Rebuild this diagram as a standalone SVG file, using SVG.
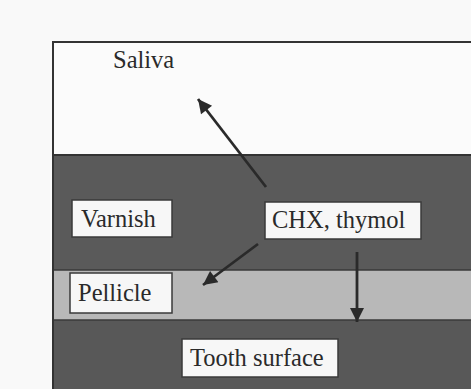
<svg xmlns="http://www.w3.org/2000/svg" width="471" height="389" viewBox="0 0 471 389">
  <defs>
    <marker id="ah" viewBox="0 0 10 10" refX="10" refY="5" markerWidth="6" markerHeight="5" orient="auto" markerUnits="strokeWidth">
      <path d="M0,0 L10,5 L0,10 Z" fill="#2a2a2a"/>
    </marker>
  </defs>
  <style>
    .lbl { font-family: "Liberation Serif", "Times New Roman", serif; font-size: 24.5px; fill: #2a2a2a; }
    .box { fill: #f7f7f7; stroke: #3a3a3a; stroke-width: 1.5; }
    .arrow { stroke: #2a2a2a; stroke-width: 2.8; fill: none; }
  </style>
  <rect width="471" height="389" fill="#f9f9f9"/>
  <g id="layers">
    <rect x="53" y="42" width="430" height="113" fill="#fbfbfb"/>
    <rect x="53" y="155" width="430" height="115" fill="#5a5a5a"/>
    <rect x="53" y="270" width="430" height="50" fill="#b8b8b8"/>
    <rect x="53" y="320" width="430" height="80" fill="#585858"/>
    <line x1="53" y1="155" x2="471" y2="155" stroke="#333" stroke-width="2"/>
    <line x1="53" y1="270" x2="471" y2="270" stroke="#3a3a3a" stroke-width="1.5"/>
    <line x1="53" y1="320" x2="471" y2="320" stroke="#3a3a3a" stroke-width="1.5"/>
    <path d="M53,389 L53,42 L471,42" fill="none" stroke="#333" stroke-width="2"/>
  </g>
  <g id="saliva">
    <text class="lbl" x="113" y="68">Saliva</text>
  </g>
  <g id="varnish">
    <rect class="box" x="72" y="200" width="100" height="37"/>
    <text class="lbl" x="81" y="227">Varnish</text>
  </g>
  <g id="chx">
    <rect class="box" x="265" y="202" width="156" height="37"/>
    <text class="lbl" x="272" y="228">CHX, thymol</text>
  </g>
  <g id="pellicle">
    <rect class="box" x="70" y="273" width="102" height="40"/>
    <text class="lbl" x="78" y="301">Pellicle</text>
  </g>
  <g id="tooth">
    <rect class="box" x="182" y="339" width="156" height="38"/>
    <text class="lbl" x="190" y="366">Tooth surface</text>
  </g>
  <g id="connectors">
    <line class="arrow" x1="266" y1="187" x2="198" y2="99" marker-end="url(#ah)"/>
    <line class="arrow" x1="258" y1="244" x2="203" y2="285" marker-end="url(#ah)"/>
    <line class="arrow" x1="357" y1="252" x2="357" y2="322" marker-end="url(#ah)"/>
  </g>
</svg>
